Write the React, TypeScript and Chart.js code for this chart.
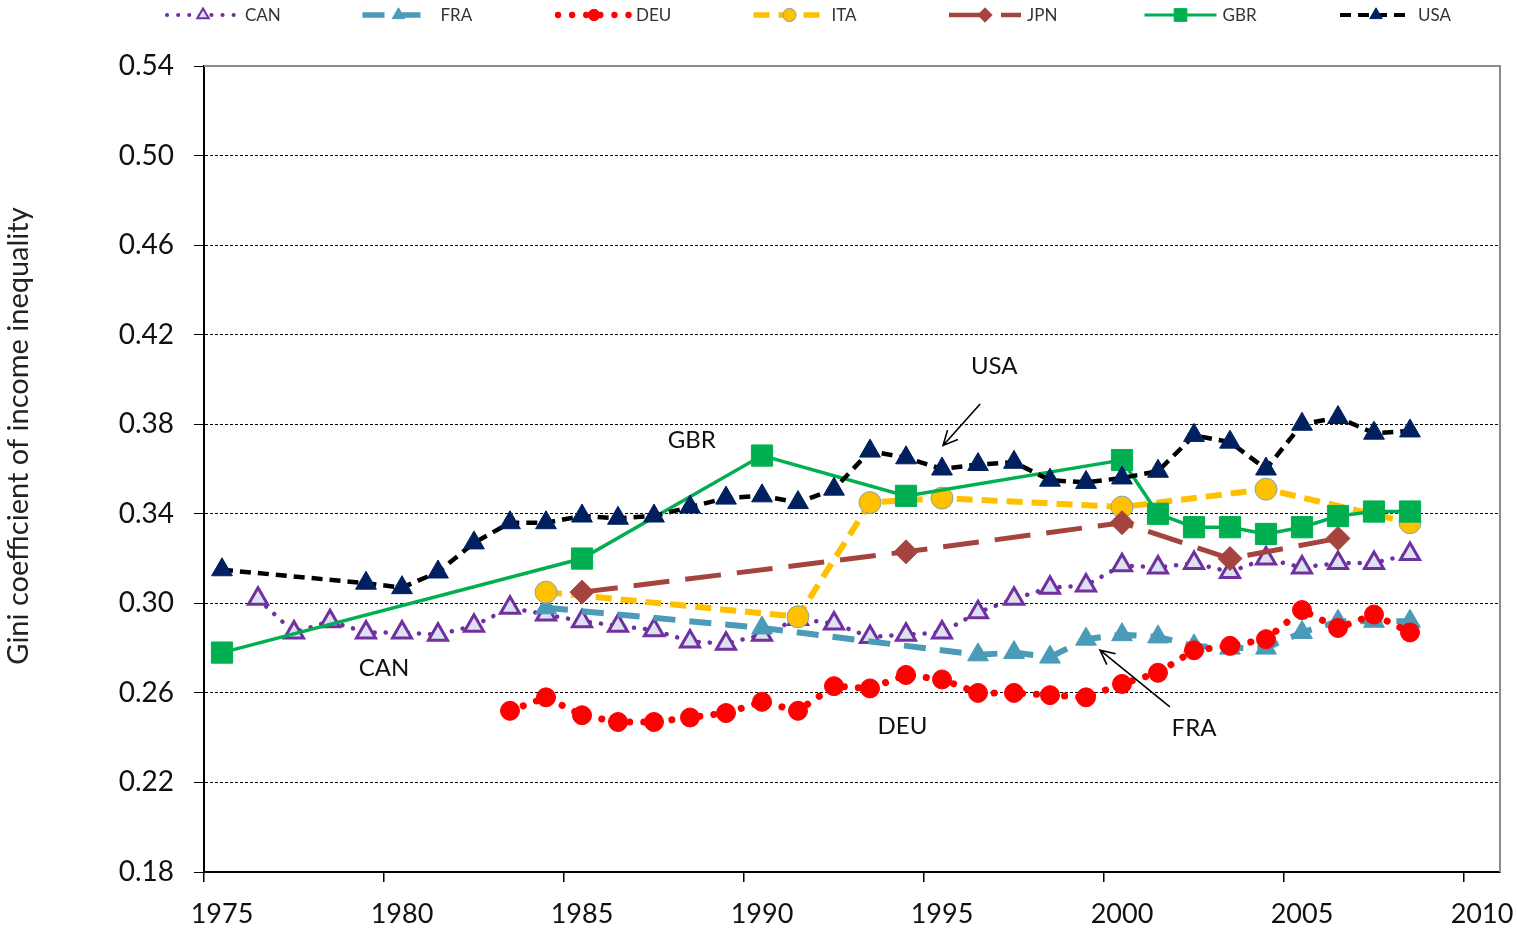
import React, { useEffect, useRef } from 'react';
import { Chart, registerables } from 'chart.js';

Chart.register(...registerables);

// ---------- DATA ----------
const seriesNames = ['CAN', 'FRA', 'DEU', 'ITA', 'JPN', 'GBR', 'USA'];

const canYears = [1976, 1977, 1978, 1979, 1980, 1981, 1982, 1983, 1984, 1985, 1986, 1987, 1988, 1989, 1990, 1991, 1992, 1993, 1994, 1995, 1996, 1997, 1998, 1999, 2000, 2001, 2002, 2003, 2004, 2005, 2006, 2007, 2008];
const canValues = [0.302, 0.287, 0.292, 0.287, 0.287, 0.286, 0.290, 0.298, 0.295, 0.292, 0.290, 0.288, 0.283, 0.282, 0.286, 0.293, 0.291, 0.285, 0.286, 0.287, 0.296, 0.302, 0.307, 0.308, 0.317, 0.316, 0.318, 0.314, 0.320, 0.316, 0.318, 0.318, 0.322];

const fraYears = [1984, 1990, 1996, 1997, 1998, 1999, 2000, 2001, 2002, 2003, 2004, 2005, 2006, 2007, 2008];
const fraValues = [0.298, 0.289, 0.277, 0.278, 0.276, 0.284, 0.286, 0.285, 0.281, 0.280, 0.280, 0.287, 0.292, 0.292, 0.292];

const deuYears = [1983, 1984, 1985, 1986, 1987, 1988, 1989, 1990, 1991, 1992, 1993, 1994, 1995, 1996, 1997, 1998, 1999, 2000, 2001, 2002, 2003, 2004, 2005, 2006, 2007, 2008];
const deuValues = [0.252, 0.258, 0.250, 0.247, 0.247, 0.249, 0.251, 0.256, 0.252, 0.263, 0.262, 0.268, 0.266, 0.260, 0.260, 0.259, 0.258, 0.264, 0.269, 0.279, 0.281, 0.284, 0.297, 0.289, 0.295, 0.287];

const itaYears = [1984, 1991, 1993, 1995, 2000, 2004, 2008];
const itaValues = [0.305, 0.294, 0.345, 0.347, 0.343, 0.351, 0.336];

const jpnYears = [1985, 1994, 2000, 2003, 2006];
const jpnValues = [0.305, 0.323, 0.336, 0.320, 0.329];

const gbrYears = [1975, 1985, 1990, 1994, 2000, 2001, 2002, 2003, 2004, 2005, 2006, 2007, 2008];
const gbrValues = [0.278, 0.320, 0.366, 0.348, 0.364, 0.340, 0.334, 0.334, 0.331, 0.334, 0.339, 0.341, 0.341];

const usaYears = [1975, 1979, 1980, 1981, 1982, 1983, 1984, 1985, 1986, 1987, 1988, 1989, 1990, 1991, 1992, 1993, 1994, 1995, 1996, 1997, 1998, 1999, 2000, 2001, 2002, 2003, 2004, 2005, 2006, 2007, 2008];
const usaValues = [0.315, 0.309, 0.307, 0.314, 0.327, 0.336, 0.336, 0.339, 0.338, 0.339, 0.343, 0.347, 0.348, 0.345, 0.351, 0.368, 0.365, 0.360, 0.362, 0.363, 0.355, 0.354, 0.356, 0.359, 0.375, 0.372, 0.360, 0.380, 0.383, 0.376, 0.377];

const xTickLabels = [1975, 1980, 1985, 1990, 1995, 2000, 2005, 2010];
const yTickLabels = [0.18, 0.22, 0.26, 0.30, 0.34, 0.38, 0.42, 0.46, 0.50, 0.54];

const yAxisTitle = 'Gini coefficient of income inequality';

// Annotation labels (data coordinates)
const annTexts = ['USA', 'GBR', 'CAN', 'DEU', 'FRA'];
const annYears = [1996.45, 1988.05, 1979.5, 1993.9, 2002.0];
const annValues = [0.406, 0.373, 0.271, 0.245, 0.244];
// Arrows: [fromYear, fromValue, toYear, toValue]
const arrowUSA = [1996.06, 0.389, 1995.03, 0.3705];
const arrowFRA = [2001.33, 0.2537, 1999.39, 0.2791];

// ---------- STYLES ----------
const styles = [
  { color: '#7030A0', width: 4.5, dash: [0.1, 11], cap: 'round', point: 'triangle', r: 11, fill: '#DDE2F1', stroke: '#7030A0', pbw: 3 },
  { color: '#4A9BB8', width: 6, dash: [22, 14], cap: 'butt', point: 'triangle', r: 12, fill: '#4A9BB8', stroke: '#4A9BB8', pbw: 1 },
  { color: '#FF0000', width: 7, dash: [0.1, 14], cap: 'round', point: 'circle', r: 9.5, fill: '#FF0000', stroke: '#FF0000', pbw: 1 },
  { color: '#FFC000', width: 6, dash: [16, 9], cap: 'butt', point: 'circle', r: 11, fill: '#FFC000', stroke: '#7FA7B8', pbw: 1 },
  { color: '#A5443F', width: 5, dash: [36, 16], cap: 'butt', point: 'rectRot', r: 12, fill: '#A5443F', stroke: '#A5443F', pbw: 1 },
  { color: '#00B050', width: 3.5, dash: [], cap: 'butt', point: 'rect', r: 15, fill: '#00B050', stroke: '#00B050', pbw: 1 },
  { color: '#000000', width: 4.5, dash: [11, 7], cap: 'butt', point: 'triangle', r: 12, fill: '#002060', stroke: '#002060', pbw: 1 },
];

const allYears = [canYears, fraYears, deuYears, itaYears, jpnYears, gbrYears, usaYears];
const allValues = [canValues, fraValues, deuValues, itaValues, jpnValues, gbrValues, usaValues];

const FONT = 'Lato, "Open Sans", sans-serif';

function drawMarker(ctx: CanvasRenderingContext2D, style: string, x: number, y: number, r: number, fill: string, stroke: string, lw: number) {
  ctx.save();
  ctx.setLineDash([]);
  ctx.beginPath();
  if (style === 'circle') {
    ctx.arc(x, y, r, 0, Math.PI * 2);
  } else if (style === 'triangle') {
    ctx.moveTo(x, y - r);
    ctx.lineTo(x + r * 0.866, y + r / 2);
    ctx.lineTo(x - r * 0.866, y + r / 2);
    ctx.closePath();
  } else if (style === 'rect') {
    const s = r * Math.SQRT1_2;
    ctx.rect(x - s, y - s, 2 * s, 2 * s);
  } else if (style === 'rectRot') {
    ctx.moveTo(x - r, y);
    ctx.lineTo(x, y - r);
    ctx.lineTo(x + r, y);
    ctx.lineTo(x, y + r);
    ctx.closePath();
  }
  ctx.fillStyle = fill;
  ctx.fill();
  if (lw > 0) {
    ctx.lineWidth = lw;
    ctx.strokeStyle = stroke;
    ctx.stroke();
  }
  ctx.restore();
}

function drawArrow(ctx: CanvasRenderingContext2D, x1: number, y1: number, x2: number, y2: number) {
  ctx.save();
  ctx.strokeStyle = '#000';
  ctx.lineWidth = 1.6;
  ctx.setLineDash([]);
  ctx.beginPath();
  ctx.moveTo(x1, y1);
  ctx.lineTo(x2, y2);
  const ang = Math.atan2(y2 - y1, x2 - x1);
  const hl = 16;
  const spread = 0.45;
  ctx.moveTo(x2 - hl * Math.cos(ang - spread), y2 - hl * Math.sin(ang - spread));
  ctx.lineTo(x2, y2);
  ctx.lineTo(x2 - hl * Math.cos(ang + spread), y2 - hl * Math.sin(ang + spread));
  ctx.stroke();
  ctx.restore();
}

const overlayPlugin = {
  id: 'overlay',
  afterDraw(chart: any) {
    const ctx: CanvasRenderingContext2D = chart.ctx;
    const { left, right, top, bottom } = chart.chartArea;
    const xs = chart.scales.x;
    const ys = chart.scales.y;

    // plot area border (top / right)
    ctx.save();
    ctx.strokeStyle = '#8C8C8C';
    ctx.lineWidth = 2;
    ctx.beginPath();
    ctx.moveTo(left, top);
    ctx.lineTo(right, top);
    ctx.lineTo(right, bottom);
    ctx.stroke();
    ctx.restore();

    // y axis title
    ctx.save();
    ctx.translate(19, 436);
    ctx.rotate(-Math.PI / 2);
    ctx.font = `29px ${FONT}`;
    ctx.fillStyle = '#222';
    ctx.textAlign = 'center';
    ctx.textBaseline = 'middle';
    ctx.fillText(yAxisTitle, 0, 0);
    ctx.restore();

    // annotations
    ctx.save();
    ctx.font = `24px ${FONT}`;
    ctx.fillStyle = '#111';
    ctx.textAlign = 'center';
    ctx.textBaseline = 'middle';
    annTexts.forEach((t, i) => {
      ctx.fillText(t, xs.getPixelForValue(annYears[i]), ys.getPixelForValue(annValues[i]));
    });
    ctx.restore();
    [arrowUSA, arrowFRA].forEach((a) => {
      drawArrow(ctx, xs.getPixelForValue(a[0]), ys.getPixelForValue(a[1]), xs.getPixelForValue(a[2]), ys.getPixelForValue(a[3]));
    });

    // legend
    const ly = 15;
    seriesNames.forEach((name, i) => {
      const st = styles[i];
      const x0 = 167 + i * 195.5;
      ctx.save();
      ctx.strokeStyle = st.color;
      ctx.lineWidth = st.width * 0.9;
      ctx.lineCap = st.cap as CanvasLineCap;
      ctx.setLineDash(st.dash);
      ctx.beginPath();
      ctx.moveTo(x0, ly);
      ctx.lineTo(x0 + 72, ly);
      ctx.stroke();
      ctx.restore();
      drawMarker(ctx, st.point, x0 + 36, ly, st.r * 0.6, st.fill, st.stroke, Math.min(st.pbw, 2));
      ctx.save();
      ctx.font = `17px ${FONT}`;
      ctx.fillStyle = '#333';
      ctx.textAlign = 'left';
      ctx.textBaseline = 'middle';
      ctx.fillText(name, x0 + 78, ly + 1);
      ctx.restore();
    });
  },
};

export default function App() {
  const ref = useRef<HTMLCanvasElement>(null);

  useEffect(() => {
    if (!ref.current) return;
    Chart.defaults.font.family = FONT;

    const datasets = seriesNames.map((name, i) => {
      const st = styles[i];
      return {
        label: name,
        data: allYears[i].map((yr, j) => ({ x: yr, y: allValues[i][j] })),
        borderColor: st.color,
        borderWidth: st.width,
        borderDash: st.dash,
        borderCapStyle: st.cap,
        pointStyle: st.point,
        pointRadius: st.r,
        pointBackgroundColor: st.fill,
        pointBorderColor: st.stroke,
        pointBorderWidth: st.pbw,
        tension: 0,
        fill: false,
        order: seriesNames.length - i,
      };
    });

    const xTickValues = xTickLabels.map((v) => v - 0.5);

    const chart = new Chart(ref.current, {
      type: 'line',
      data: { datasets } as any,
      options: {
        animation: false,
        responsive: true,
        maintainAspectRatio: false,
        events: [],
        layout: { padding: { top: 66, right: 17, left: 0, bottom: 0 } },
        plugins: {
          legend: { display: false },
          tooltip: { enabled: false },
        },
        scales: {
          x: {
            type: 'linear',
            min: 1974.5,
            max: 2010.5,
            afterBuildTicks: (scale: any) => {
              scale.ticks = xTickValues.map((v) => ({ value: v }));
            },
            afterFit: (scale: any) => {
              scale.height = 56;
            },
            ticks: {
              autoSkip: false,
              maxRotation: 0,
              minRotation: 0,
              labelOffset: 18,
              padding: 16,
              color: '#111',
              font: { size: 27, family: FONT },
              callback: (v: any) => String(Math.round(Number(v) + 0.5)),
            },
            grid: {
              drawOnChartArea: false,
              tickLength: 10,
              tickColor: '#000',
              color: '#000',
              lineWidth: 1.5,
            },
            border: { color: '#000', width: 2 },
          },
          y: {
            type: 'linear',
            min: yTickLabels[0],
            max: yTickLabels[yTickLabels.length - 1],
            afterBuildTicks: (scale: any) => {
              scale.ticks = yTickLabels.map((v) => ({ value: v }));
            },
            afterFit: (scale: any) => {
              scale.width = 204;
            },
            ticks: {
              padding: 20,
              color: '#111',
              font: { size: 28, family: FONT },
              callback: (v: any) => Number(v).toFixed(2),
            },
            grid: {
              color: (c: any) => (c.tick && c.tick.value > 0.535 ? 'rgba(0,0,0,0)' : '#000'),
              lineWidth: 1,
              tickLength: 10,
              tickColor: '#000',
            },
            border: { color: '#000', width: 2, dash: [3, 2] },
          },
        },
      } as any,
      plugins: [overlayPlugin],
    });

    return () => chart.destroy();
  }, []);

  return (
    <div style={{ position: 'absolute', left: 0, top: 0, width: 1517, height: 928, background: '#fff' }}>
      <canvas ref={ref} />
    </div>
  );
}
